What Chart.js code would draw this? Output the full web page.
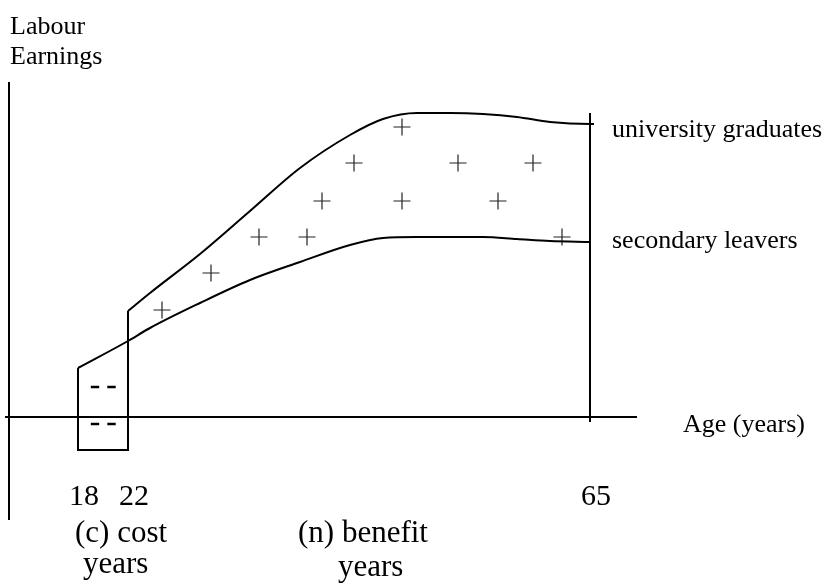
<!DOCTYPE html>
<html>
<head>
<meta charset="utf-8">
<script src="https://cdn.jsdelivr.net/npm/chart.js@4/dist/chart.umd.min.js"></script>
<style>
  html, body { margin: 0; padding: 0; background: #ffffff; }
  #wrap { width: 825px; height: 583px; position: relative; }
</style>
</head>
<body>
<div id="wrap"><canvas id="c" width="825" height="583"></canvas></div>
<script>
// ---- data (schematic units: x = position along the age axis, y = labour earnings, 0 on the age axis) ----
const secondaryAge      = [78, 128, 150, 200, 250, 300, 350, 383, 417, 450, 483, 517, 550, 590];
const secondaryEarnings = [49, 76, 89, 114, 137, 155, 172, 179, 180, 180, 180, 178, 176, 175];

const graduateAge       = [128, 150, 200, 250, 300, 350, 383, 417, 450, 483, 517, 550, 590, 594];
const graduateEarnings  = [106, 124, 163, 206, 249, 282, 298, 304, 304, 303, 300, 295, 293, 293];

const gainX = [402, 354, 458, 533, 322, 402, 498, 259, 307, 562, 211, 162];
const gainY = [290, 254, 254, 254, 216, 216, 216, 180, 180, 180, 144, 107];

const costX = [95, 111.5, 95, 111.5];
const costY = [30, 30, -7, -7];

const costBoxX = [78, 78, 128, 128];
const costBoxY = [49, -33, -33, 106];

const retireX = [590, 590];
const retireY = [304, -5];

const ageAxisX = [5, 637];
const ageAxisY = [0, 0];
const earnAxisX = [9, 9];
const earnAxisY = [335, -103];

const tickValues = [78, 128, 590];
const tickLabels = ['18', '22', '65'];

// text annotations (anchored in data units)
const noteTexts = ['Labour', 'Earnings', 'university graduates', 'secondary leavers', 'Age (years)',
                   '(c) cost', 'years', '(n) benefit', 'years'];
const noteX = [10, 10, 612, 612, 683, 75, 83, 298, 338];
const noteY = [383, 353, 280, 169, -15, -125, -156, -125, -159];
const noteSize = [26, 26, 26, 26, 26, 31, 31, 31, 31];

const pts = (xs, ys) => xs.map((x, i) => ({ x: x, y: ys[i] }));

const FONT = '"Liberation Serif", "Times New Roman", serif';

const lineDs = (data, extra) => Object.assign({
  type: 'line', data: data, borderColor: '#000', borderWidth: 2,
  pointRadius: 0, fill: false, tension: 0, clip: false
}, extra || {});

const textPlugin = {
  id: 'notes',
  afterDatasetsDraw(chart) {
    const ctx = chart.ctx, xs = chart.scales.x, ys = chart.scales.y;
    ctx.save();
    ctx.fillStyle = '#000';
    ctx.textAlign = 'left';
    ctx.textBaseline = 'alphabetic';
    noteTexts.forEach((t, i) => {
      ctx.font = noteSize[i] + 'px ' + FONT;
      ctx.fillText(t, xs.getPixelForValue(noteX[i]), ys.getPixelForValue(noteY[i]));
    });
    ctx.restore();
  }
};

new Chart(document.getElementById('c'), {
  type: 'scatter',
  data: {
    datasets: [
      lineDs(pts(earnAxisX, earnAxisY)),
      lineDs(pts(ageAxisX, ageAxisY)),
      lineDs(pts(costBoxX, costBoxY)),
      lineDs(pts(retireX, retireY)),
      lineDs(pts(secondaryAge, secondaryEarnings), { cubicInterpolationMode: 'monotone' }),
      lineDs(pts(graduateAge, graduateEarnings), { cubicInterpolationMode: 'monotone' }),
      {
        type: 'scatter', data: pts(gainX, gainY), pointStyle: 'cross',
        pointRadius: 8.5, borderColor: '#222', borderWidth: 1.2, backgroundColor: '#222', clip: false
      },
      {
        type: 'scatter', data: pts(costX, costY), pointStyle: 'line',
        pointRadius: 4.2, borderColor: '#000', borderWidth: 2.5, clip: false
      }
    ]
  },
  options: {
    responsive: false,
    animation: false,
    events: [],
    layout: { padding: 0, autoPadding: false },
    plugins: { legend: { display: false }, tooltip: { enabled: false }, title: { display: false } },
    scales: {
      x: {
        type: 'linear', min: 0, max: 825,
        position: { y: 0 },
        grid: { display: false, drawTicks: false },
        border: { display: false },
        afterBuildTicks: (scale) => { scale.ticks = tickValues.map(v => ({ value: v })); },
        ticks: {
          autoSkip: false, maxRotation: 0, minRotation: 0,
          padding: 62, labelOffset: 6, color: '#000',
          font: { family: FONT, size: 30 },
          callback: (v, i) => tickLabels[i]
        }
      },
      y: {
        type: 'linear', min: -166, max: 417, display: false
      }
    }
  },
  plugins: [textPlugin]
});
</script>
</body>
</html>
